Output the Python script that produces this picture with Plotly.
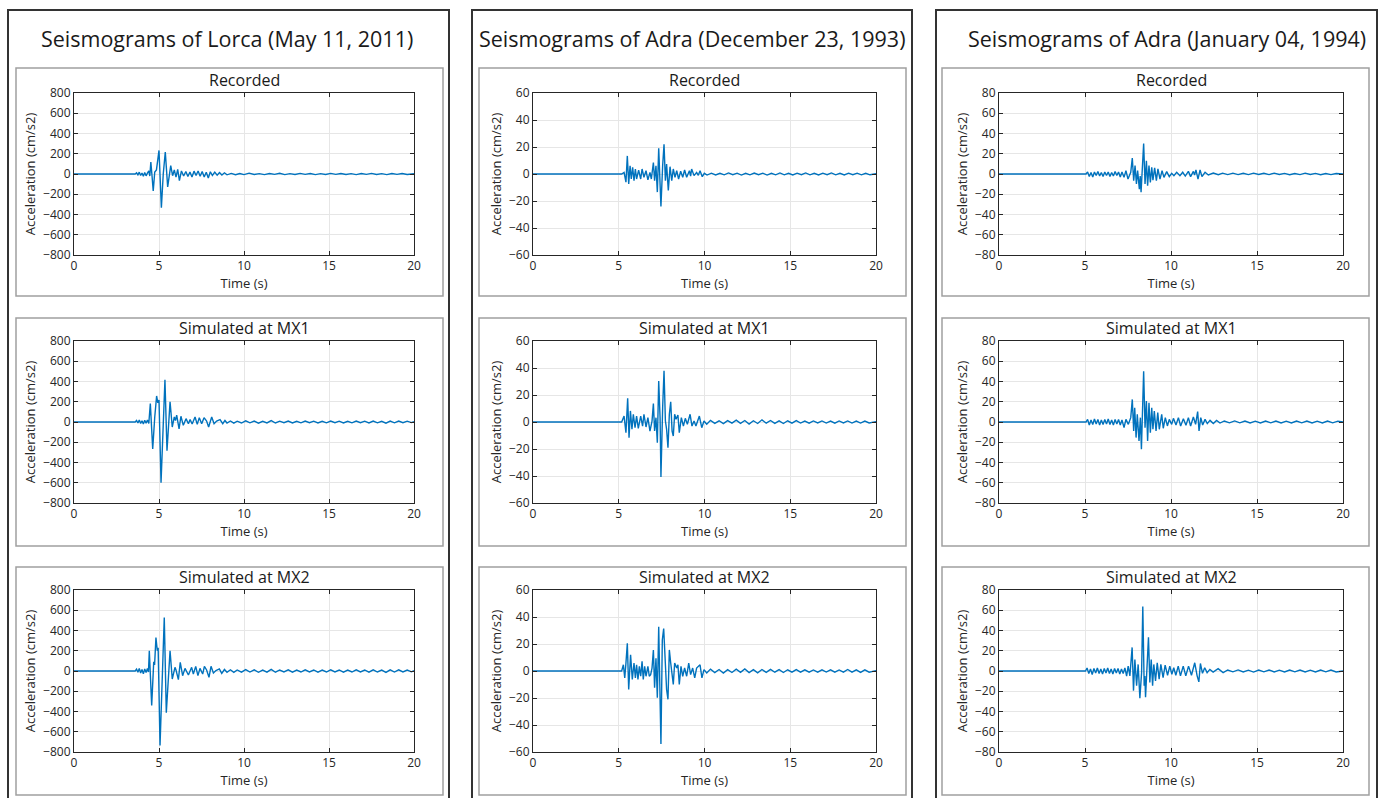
import plotly.graph_objects as go

# ---------------- data (time s, acceleration cm/s2) ----------------
col_titles = ["Seismograms of Lorca (May 11, 2011)",
              "Seismograms of Adra (December 23, 1993)",
              "Seismograms of Adra (January 04, 1994)"]
row_titles = ["Recorded", "Simulated at MX1", "Simulated at MX2"]
x_ticks = [0, 5, 10, 15, 20]
y_limits = [800, 60, 80]
y_steps = [200, 20, 20]

lorca_rec = [(0, 0), (3.6, 0), (3.68, 12), (3.76, -8), (3.84, 18), (3.92, -15), (4.0, 10), (4.08, -22),
             (4.16, 14), (4.24, -18), (4.32, 8), (4.4, 30), (4.46, -20), (4.52, 117), (4.6, -40), (4.66, -167),
             (4.75, 20), (4.85, 40), (5.0, 233), (5.14, -333), (5.25, 0), (5.37, 217), (5.51, -127), (5.69, 83),
             (5.8, -17), (5.9, 40), (6.0, -30), (6.1, 45), (6.2, -65), (6.32, 30), (6.45, -20), (6.58, 25),
             (6.7, -25), (6.82, 20), (6.94, -30), (7.06, 28), (7.18, -15), (7.3, 30), (7.42, -22), (7.54, 25),
             (7.66, -30), (7.78, 18), (7.9, -40), (8.02, 22), (8.14, -15), (8.28, 18), (8.42, -12), (8.56, 15),
             (8.7, -10), (8.85, 12), (9.0, -8), (9.25, 6), (9.5, -7), (9.75, 5), (10.0, -6), (10.3, 8),
             (10.6, -5), (10.9, 4), (11.2, -6), (11.5, 5), (11.8, -4), (12.1, 7), (12.4, -6), (12.7, 4),
             (13.0, -5), (13.3, 6), (13.6, -4), (13.9, 5), (14.2, -6), (14.5, 4), (14.8, -5), (15.1, 6),
             (15.4, -4), (15.7, 5), (16.0, -5), (16.3, 4), (16.6, -6), (16.9, 5), (17.2, -4), (17.5, 6),
             (17.8, -5), (18.1, 4), (18.4, -6), (18.7, 5), (19.0, -4), (19.3, 5), (19.6, -5), (20.0, 2)]

lorca_mx1 = [(0, 0), (3.6, 0), (3.68, 15), (3.76, -10), (3.84, 20), (3.92, -15), (4.0, 12), (4.08, -20),
             (4.16, 18), (4.24, -12), (4.32, 20), (4.4, -15), (4.49, 183), (4.63, -267), (4.75, 50),
             (4.86, 257), (4.93, 190), (5.0, 217), (5.12, -600), (5.35, 417), (5.47, -283), (5.65, 200),
             (5.78, -50), (5.9, 50), (5.97, 15), (6.04, 67), (6.18, -67), (6.29, 57), (6.43, -33), (6.59, 33),
             (6.73, -17), (6.83, 25), (6.95, -20), (7.12, 50), (7.25, -23), (7.37, 43), (7.51, -17), (7.65, 43),
             (7.8, 10), (7.92, -50), (8.1, 50), (8.24, -17), (8.39, 10), (8.59, 23), (8.75, -17), (8.88, 15),
             (9.0, -10), (9.2, 10), (9.4, -12), (9.6, 8), (9.85, -10), (10.1, 12), (10.35, -8), (10.6, 9),
             (10.85, -11), (11.1, 7), (11.35, -9), (11.6, 14), (11.85, -10), (12.1, 8), (12.35, -7), (12.6, 9),
             (12.85, -10), (13.1, 7), (13.35, -8), (13.6, 10), (13.85, -7), (14.1, 8), (14.35, -9), (14.6, 7),
             (14.85, -8), (15.1, 9), (15.35, -7), (15.6, 8), (15.85, -10), (16.1, 7), (16.35, -8), (16.6, 9),
             (16.85, -7), (17.1, 8), (17.35, -9), (17.6, 10), (17.85, -8), (18.1, 7), (18.35, -12), (18.6, 9),
             (18.85, -8), (19.1, 10), (19.35, -7), (19.6, 8), (19.85, -6), (20.0, 3)]

lorca_mx2 = [(0, 0), (3.6, 0), (3.68, 18), (3.76, -12), (3.84, 25), (3.92, -20), (4.0, 15), (4.08, -28),
             (4.16, 20), (4.24, -15), (4.32, 25), (4.38, -10), (4.43, 200), (4.57, -341), (4.69, 90),
             (4.74, 60), (4.82, 331), (4.9, 200), (4.95, 230), (5.06, -735), (5.31, 528), (5.43, -413),
             (5.65, 200), (5.78, -79), (5.94, 36), (6.0, 10), (6.14, -85), (6.25, 85), (6.39, -46), (6.53, 26),
             (6.73, -39), (6.92, 36), (7.02, -30), (7.16, 46), (7.29, -46), (7.41, 26), (7.57, -30), (7.67, 46),
             (7.8, 10), (7.94, -62), (8.06, 46), (8.2, -20), (8.35, 5), (8.55, 20), (8.69, -23), (8.85, 15),
             (9.0, -12), (9.2, 12), (9.4, -14), (9.6, 10), (9.85, -12), (10.1, 14), (10.35, -10), (10.6, 11),
             (10.85, -13), (11.1, 9), (11.35, -11), (11.6, 16), (11.85, -12), (12.1, 10), (12.35, -9),
             (12.6, 11), (12.85, -12), (13.1, 9), (13.35, -10), (13.6, 12), (13.85, -9), (14.1, 10),
             (14.35, -11), (14.6, 9), (14.85, -10), (15.1, 11), (15.35, -9), (15.6, 10), (15.85, -12),
             (16.1, 9), (16.35, -10), (16.6, 11), (16.85, -9), (17.1, 10), (17.35, -11), (17.6, 12),
             (17.85, -10), (18.1, 9), (18.35, -14), (18.6, 11), (18.85, -10), (19.1, 12), (19.35, -9),
             (19.6, 10), (19.85, -8), (20.0, 3)]

dec_rec = [(0, 0), (5.17, 0), (5.31, 1.2), (5.42, -6.1), (5.5, 13.4), (5.58, -7.3), (5.66, 6.1), (5.73, -3.7),
           (5.81, 4.9), (5.89, -4.9), (5.97, 3.7), (6.04, -3.7), (6.16, 2.9), (6.28, -3.7), (6.36, 3.7),
           (6.47, -2.4), (6.59, 2.4), (6.7, -4.4), (6.82, 1.2), (6.9, -3.7), (7.02, 8.5), (7.09, -4.9),
           (7.17, 6.1), (7.25, -13.4), (7.33, 19), (7.39, 4), (7.46, -24), (7.56, 6.1), (7.64, 22), (7.72, -4.9),
           (7.79, 7.3), (7.89, -12.2), (7.99, 5.4), (8.09, -4.9), (8.18, 3.7), (8.28, -2.4), (8.38, 2.4),
           (8.49, -3.7), (8.61, 2), (8.73, -2.4), (8.84, 3), (8.96, -2.4), (9.12, 2.4), (9.19, -1.5),
           (9.25, 3.7), (9.39, -1.2), (9.54, 1.2), (9.64, -1), (9.74, 2.4), (9.87, -2), (9.99, 0.5),
           (10.15, -0.8), (10.4, 0.6), (10.65, -0.7), (10.9, 0.5), (11.15, -0.6), (11.4, 0.8), (11.65, -0.5),
           (11.9, 0.6), (12.15, -0.8), (12.4, 0.5), (12.65, -0.6), (12.9, 0.7), (13.15, -0.5), (13.4, 0.6),
           (13.65, -0.8), (13.9, 0.5), (14.15, -0.6), (14.4, 0.8), (14.65, -0.6), (14.9, 0.5), (15.15, -0.7),
           (15.4, 0.6), (15.65, -0.5), (15.9, 0.8), (16.15, -0.6), (16.4, 0.5), (16.65, -0.7), (16.9, 0.6),
           (17.15, -0.5), (17.4, 0.8), (17.65, -0.6), (17.9, 0.5), (18.15, -0.7), (18.4, 0.6), (18.65, -0.5),
           (18.9, 0.6), (19.15, -0.6), (19.4, 0.5), (19.65, -0.6), (20.0, 0.2)]

dec_mx1 = [(0, 0), (5.17, 0), (5.31, 4.4), (5.42, -7.9), (5.52, 17.5), (5.6, -11.6), (5.68, 8.2), (5.77, -5.4),
           (5.85, 5.7), (5.95, -4.2), (6.04, 4.4), (6.14, -4.7), (6.28, 4.4), (6.39, -3), (6.47, 5.7),
           (6.59, -3.7), (6.7, 3.2), (6.82, -6.7), (6.94, 0.7), (7.02, 13.6), (7.09, -6.7), (7.17, 3.2),
           (7.25, -15.3), (7.33, 30.4), (7.41, 3.2), (7.46, -40.8), (7.56, 10.6), (7.64, 38), (7.72, 0.7),
           (7.79, -5.4), (7.87, -19.1), (7.95, 5.7), (8.03, 15), (8.11, -6.7), (8.18, -10.4), (8.26, 5.7),
           (8.34, 2), (8.45, 5.2), (8.53, -7.9), (8.65, 3.2), (8.77, -3), (8.88, 2.7), (9.0, -1.7),
           (9.16, 5.7), (9.27, -3), (9.39, 0.7), (9.5, -3), (9.7, 4.4), (9.84, -4.2), (9.97, 0.7),
           (10.13, -1.7), (10.35, 1.2), (10.6, -1.0), (10.85, 0.9), (11.1, -1.2), (11.35, 1.0), (11.6, -0.8),
           (11.85, 1.4), (12.1, -1.0), (12.35, 1.1), (12.6, -1.5), (12.85, 0.9), (13.1, -1.1), (13.35, 1.6),
           (13.6, -0.9), (13.85, 1.1), (14.1, -1.0), (14.35, 0.8), (14.6, -1.1), (14.85, 0.9), (15.1, -0.8),
           (15.35, 1.0), (15.6, -0.8), (15.85, 0.7), (16.1, -0.9), (16.35, 0.8), (16.6, -0.7), (16.85, 0.8),
           (17.1, -0.8), (17.35, 0.7), (17.6, -0.9), (17.85, 0.8), (18.1, -0.7), (18.35, 0.8), (18.6, -0.8),
           (18.85, 0.7), (19.1, -0.8), (19.35, 0.7), (19.6, -0.7), (20.0, 0.3)]

dec_mx2 = [(0, 0), (5.17, 0), (5.27, 4.6), (5.35, -5.1), (5.42, 5.9), (5.5, 20.5), (5.58, -13.7),
           (5.69, 12), (5.79, -6.3), (5.89, 5.9), (5.97, -5.1), (6.04, 4.6), (6.12, -6.3), (6.2, 3.4),
           (6.28, -3.9), (6.36, 7.1), (6.43, -6.3), (6.51, 3.4), (6.59, -3.9), (6.7, 3.4), (6.78, -3.9),
           (6.86, -2.7), (6.94, 2.2), (7.02, 15.6), (7.09, -12.4), (7.17, 9.5), (7.25, -19.8), (7.33, 32.7),
           (7.46, -54), (7.54, 23), (7.62, 31.5), (7.7, 5.9), (7.79, -13.7), (7.87, -21), (7.95, 15.6),
           (8.03, 5.9), (8.11, -3.9), (8.18, -10), (8.26, 5.9), (8.38, 2.2), (8.45, 4.6), (8.53, -10),
           (8.63, 3.4), (8.73, -3.9), (8.84, 2.2), (8.96, -3.9), (9.08, 5.9), (9.19, -2.7), (9.31, 2.2),
           (9.43, -5.1), (9.54, 2.2), (9.74, 4.6), (9.85, -5.1), (9.97, 1), (10.13, -1.5), (10.35, 1.4),
           (10.6, -1.2), (10.85, 1.1), (11.1, -1.5), (11.35, 1.0), (11.6, -1.1), (11.85, 1.4), (12.1, -1.0),
           (12.35, 1.5), (12.6, -1.2), (12.85, 1.0), (13.1, -1.4), (13.35, 1.1), (13.6, -1.0), (13.85, 1.2),
           (14.1, -0.9), (14.35, 1.0), (14.6, -1.1), (14.85, 0.9), (15.1, -0.9), (15.35, 1.0), (15.6, -0.8),
           (15.85, 0.9), (16.1, -0.9), (16.35, 0.8), (16.6, -0.9), (16.85, 0.9), (17.1, -0.8), (17.35, 0.9),
           (17.6, -0.9), (17.85, 0.8), (18.1, -0.9), (18.35, 1.1), (18.6, -0.8), (18.85, 0.9), (19.1, -1.0),
           (19.35, 0.8), (19.6, -0.9), (20.0, 0.3)]

jan_rec = [(0, 0), (5.06, 0), (5.15, 2), (5.25, -2.5), (5.35, 1.5), (5.45, -3), (5.55, 2), (5.65, -1.5),
           (5.75, 2.5), (5.85, -2), (5.95, 1.5), (6.05, -2.5), (6.15, 2), (6.25, -1.5), (6.35, 2), (6.45, -2.5),
           (6.55, 1.5), (6.65, -2), (6.75, 2.5), (6.85, -1.5), (6.95, 2), (7.05, -3), (7.15, 2), (7.27, -3.3),
           (7.38, 3.3), (7.5, -5), (7.66, 1.7), (7.75, 15.8), (7.83, -6.6), (7.91, 8.3), (7.99, -9.9),
           (8.06, 3.3), (8.16, -14.9), (8.21, -2), (8.26, -18), (8.33, 6.6), (8.41, 30), (8.49, -9.9),
           (8.57, 13), (8.64, -11.6), (8.72, 8.3), (8.8, -8.3), (8.88, 6.6), (8.95, -6), (9.05, 6),
           (9.15, -6.6), (9.24, 5), (9.36, -5), (9.48, 3.3), (9.59, -3.3), (9.75, 2.3), (9.9, -2.6),
           (10.04, 0.7), (10.17, -1.7), (10.33, 1.7), (10.52, -1.7), (10.68, 1.7), (10.83, -2), (11.01, 2.6),
           (11.14, -2.6), (11.3, 2.6), (11.37, -1), (11.45, 4), (11.57, -5), (11.69, 4), (11.8, -2.6),
           (11.98, 1.7), (12.17, -1), (12.46, 1), (12.75, -0.7), (13.0, 0.8), (13.3, -0.6), (13.6, 0.8),
           (13.9, -0.6), (14.2, 0.7), (14.5, -0.6), (14.8, 0.8), (15.1, -0.5), (15.4, 0.7), (15.7, -0.6),
           (16.0, 0.8), (16.3, -0.5), (16.6, 0.6), (16.9, -0.7), (17.2, 0.5), (17.5, -0.6), (17.8, 0.8),
           (18.1, -0.5), (18.4, 0.6), (18.7, -0.7), (19.0, 0.5), (19.3, -0.6), (19.6, 0.5), (20.0, 0)]

jan_mx1 = [(0, 0), (5.06, 0), (5.15, 2.5), (5.25, -3), (5.35, 2), (5.45, -2.5), (5.55, 3), (5.65, -2),
           (5.75, 2.5), (5.85, -3), (5.95, 2), (6.05, -2.5), (6.15, 2.5), (6.25, -2), (6.35, 3), (6.45, -2.5),
           (6.55, 2), (6.65, -3), (6.75, 2.5), (6.85, -2), (6.95, 2.5), (7.05, -3), (7.15, 2), (7.27, -5.6),
           (7.38, 2.6), (7.52, -2.3), (7.66, 4.3), (7.75, 22.3), (7.83, -8.9), (7.89, 14.1), (7.97, -15.4),
           (8.04, 7.5), (8.14, -18.7), (8.22, 4.3), (8.28, -26.9), (8.35, 7.5), (8.41, 50), (8.49, -5.6),
           (8.57, 20.7), (8.64, -18.7), (8.72, 19), (8.8, -10.5), (8.88, 14.1), (8.95, -7.2), (9.03, 10.8),
           (9.13, -8.9), (9.23, 9.2), (9.32, -7.2), (9.46, 7.5), (9.55, -6.2), (9.67, 4.3), (9.79, -3.9),
           (9.9, 2.6), (10.04, -2.3), (10.14, 3.6), (10.29, -3), (10.43, 4.3), (10.56, -3.9), (10.72, 3.3),
           (10.87, -3.3), (11.01, 4.3), (11.14, -3.9), (11.3, 4.9), (11.43, -2.3), (11.55, 10.2),
           (11.63, -8.9), (11.73, 4.3), (11.84, -3), (11.98, 2.6), (12.11, -1.6), (12.27, 1.6), (12.46, -1.6),
           (12.65, 1.6), (12.85, -1), (13.1, 1.0), (13.4, -0.8), (13.7, 1.1), (14.0, -0.8), (14.3, 0.9),
           (14.6, -1.0), (14.9, 0.8), (15.2, -0.9), (15.5, 1.0), (15.8, -0.8), (16.1, 0.9), (16.4, -1.0),
           (16.7, 0.8), (17.0, -0.9), (17.3, 1.0), (17.6, -0.8), (17.9, 0.9), (18.2, -1.0), (18.5, 0.8),
           (18.8, -0.9), (19.1, 1.0), (19.4, -0.8), (19.7, 0.8), (20.0, 0)]

jan_mx2 = [(0, 0), (5.03, 0), (5.12, 3), (5.22, -2.5), (5.32, 2), (5.42, -3.5), (5.52, 2.5), (5.62, -2),
           (5.72, 3), (5.82, -2.5), (5.92, 2), (6.02, -3), (6.12, 2.5), (6.22, -2), (6.32, 3), (6.42, -2.5),
           (6.52, 2), (6.62, -3), (6.72, 2.5), (6.82, -2), (6.92, 2.5), (7.02, -3), (7.12, 2), (7.22, -2.5),
           (7.32, 3), (7.42, -5), (7.51, 4.8), (7.61, -4.8), (7.74, 23.3), (7.82, -19.4), (7.9, 11.3),
           (8.0, -14.5), (8.09, 6.5), (8.19, -26.8), (8.29, -1.6), (8.36, 63.6), (8.44, -14.5), (8.48, -5),
           (8.52, -25.8), (8.6, 11.3), (8.69, 33.3), (8.77, -11.3), (8.85, 11.3), (8.93, -14.5), (9.0, 6.5),
           (9.1, -9.7), (9.2, 8.1), (9.31, -8.1), (9.41, 6.5), (9.54, -6.5), (9.66, 5.8), (9.8, -4.2),
           (9.93, 4.8), (10.05, -3.2), (10.16, 3.2), (10.28, -4.2), (10.42, 4.8), (10.55, -4.8), (10.71, 4.8),
           (10.86, -4.8), (11.02, 4.8), (11.19, -4.2), (11.38, 8.1), (11.52, -4.8), (11.62, -10.7),
           (11.71, 7.4), (11.83, -2.3), (11.96, 3.2), (12.1, -1.6), (12.26, 1.6), (12.45, -1), (12.74, 2.3),
           (13.03, -1.6), (13.3, 1.0), (13.6, -0.8), (13.9, 1.1), (14.2, -1.0), (14.5, 0.8), (14.8, -1.1),
           (15.1, 0.9), (15.4, -0.8), (15.7, 1.0), (16.0, -0.9), (16.3, 0.8), (16.6, -1.0), (16.9, 0.9),
           (17.2, -0.8), (17.5, 1.0), (17.8, -0.9), (18.1, 0.8), (18.4, -1.0), (18.7, 0.9), (19.0, -0.8),
           (19.3, 1.0), (19.6, -0.9), (20.0, 0)]

series = [[lorca_rec, lorca_mx1, lorca_mx2],
          [dec_rec, dec_mx1, dec_mx2],
          [jan_rec, jan_mx1, jan_mx2]]

# ---------------- layout geometry (pixels) ----------------
W, H = 1379, 798
plot_x = [(74, 414), (533, 876), (999, 1343)]
plot_y = [(93, 255), (341, 503), (590, 752)]
outer_x = [(8, 449), (472, 912), (936, 1377)]
inner_x = [(16, 443), (479, 906), (942, 1369)]
inner_y = [(68, 296), (318, 546), (567, 795)]
title_cx = [227, 692, 1167]
title_y = 38

FONT = "Open Sans"
LINE = "#0072BD"
AX = "#262626"
GRID = "#e6e6e6"


def fx(px):
    return px / W


def fy(py):
    return 1 - py / H


fig = go.Figure()
layout = dict(width=W, height=H, margin=dict(l=0, r=0, t=0, b=0, pad=0, autoexpand=False),
              paper_bgcolor="white", plot_bgcolor="white", showlegend=False,
              font=dict(family=FONT, color=AX))
shapes = []
annotations = []

k = 0
for c in range(3):
    for r in range(3):
        k += 1
        pts = series[c][r]
        ts = [p[0] for p in pts]
        vs = [p[1] for p in pts]
        xa = "x" if k == 1 else f"x{k}"
        ya = "y" if k == 1 else f"y{k}"
        fig.add_trace(go.Scatter(x=ts, y=vs, mode="lines", xaxis=xa, yaxis=ya,
                                 line=dict(color=LINE, width=1.4), hoverinfo="skip"))
        lim = y_limits[c]
        step = y_steps[c]
        yt = list(range(-lim, lim + 1, step))
        common = dict(showgrid=True, gridcolor=GRID, gridwidth=1, zeroline=False,
                      showline=True, linecolor=AX, linewidth=1, mirror="ticks",
                      ticks="inside", ticklen=4, tickcolor=AX, tickwidth=1, automargin=False,
                      tickfont=dict(family=FONT, size=12, color=AX))
        layout["xaxis" if k == 1 else f"xaxis{k}"] = dict(
            common, domain=[fx(plot_x[c][0]), fx(plot_x[c][1])], range=[0, 20],
            tickvals=x_ticks, anchor=ya,
            title=dict(text="Time (s)", font=dict(family=FONT, size=13, color=AX), standoff=2))
        layout["yaxis" if k == 1 else f"yaxis{k}"] = dict(
            common, domain=[fy(plot_y[r][1]), fy(plot_y[r][0])], range=[-lim, lim],
            tickvals=yt, anchor=xa,
            title=dict(text="Acceleration (cm/s2)", font=dict(family=FONT, size=13, color=AX), standoff=4))
        # inner panel box
        shapes.append(dict(type="rect", xref="paper", yref="paper",
                           x0=fx(inner_x[c][0]), x1=fx(inner_x[c][1]),
                           y0=fy(inner_y[r][1]), y1=fy(inner_y[r][0]),
                           line=dict(color="#a0a0a0", width=1.5), layer="below"))
        annotations.append(dict(text=row_titles[r], xref="paper", yref="paper",
                                x=fx((plot_x[c][0] + plot_x[c][1]) / 2), y=fy(plot_y[r][0] - 13),
                                showarrow=False, xanchor="center", yanchor="middle",
                                font=dict(family=FONT, size=16, color="#1a1a1a")))
    shapes.append(dict(type="rect", xref="paper", yref="paper",
                       x0=fx(outer_x[c][0]), x1=fx(outer_x[c][1]), y0=-0.02, y1=fy(10),
                       line=dict(color="#333333", width=2), layer="below"))
    annotations.append(dict(text=col_titles[c], xref="paper", yref="paper",
                            x=fx(title_cx[c]), y=fy(title_y), showarrow=False,
                            xanchor="center", yanchor="middle",
                            font=dict(family=FONT, size=21.5, color="#1a1a1a")))

layout["shapes"] = shapes
layout["annotations"] = annotations
fig.update_layout(**layout)
fig.write_html("out.html", config={"displayModeBar": False},
               post_script="document.body.style.margin='0';document.body.style.overflow='hidden';")
